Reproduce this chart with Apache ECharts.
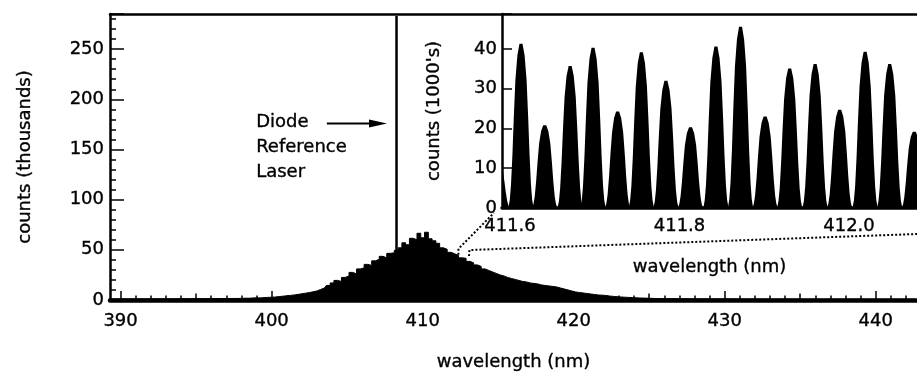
<!DOCTYPE html>
<html>
<head>
<meta charset="utf-8">
<script src="https://cdn.jsdelivr.net/npm/echarts@6/dist/echarts.min.js"></script>
<style>
html,body{margin:0;padding:0;background:#fff;}
#chart{width:917px;height:372px;}
</style>
</head>
<body>
<div id="chart"></div>
<script>
// ---------- DATA ----------
// Main spectrum (wavelength nm, counts in thousands)
const specWl = [389.3, 392, 395, 397,
  398.0, 398.25, 398.5, 398.75, 399.0, 399.25, 399.5, 399.75,
  400.0, 400.25, 400.5, 400.75, 401.0, 401.25, 401.5, 401.75,
  402.0, 402.25, 402.5, 402.75, 403.0, 403.25, 403.5, 403.75,
  404.0, 404.25, 404.5, 404.75, 405.0, 405.25, 405.5, 405.75,
  406.0, 406.25, 406.5, 406.75, 407.0, 407.25, 407.5, 407.75,
  408.0, 408.25, 408.5, 408.75, 409.0, 409.25, 409.5, 409.75,
  410.0, 410.25, 410.5, 410.75, 411.0, 411.25, 411.5, 411.75,
  412.0, 412.25, 412.5, 412.75, 413.0, 413.25, 413.5, 413.75,
  414.0, 414.25, 414.5, 414.75, 415.0, 415.25, 415.5, 415.75,
  416.0, 416.25, 416.5, 416.75, 417.0, 417.25, 417.5, 417.75,
  418.0, 418.25, 418.5, 418.75, 419.0, 419.25, 419.5, 419.75,
  420.0, 420.25, 420.5, 420.75, 421.0, 421.25, 421.5, 421.75,
  422.0, 422.25, 422.5, 422.75, 423.0, 423.25, 423.5, 423.75,
  424.0, 424.25, 424.5, 424.75, 425.0, 425.5, 426.0,
  428, 432, 436, 440, 442.73];
const specCounts = [1.0, 1.1, 1.3, 1.5,
  1.6, 1.8, 1.7, 2.0, 2.2, 2.1, 2.4, 2.6,
  2.8, 3.0, 3.4, 3.8, 4.2, 4.6, 5.0, 5.6,
  6.2, 6.8, 7.4, 8.2, 9.0, 10.5, 12.0, 14.5,
  17.0, 19.5, 18.5, 22.5, 24.0, 27.5, 26.0, 31.0,
  32.0, 35.5, 34.5, 39.0, 40.5, 43.5, 42.0, 46.5,
  47.0, 49.5, 52.0, 57.0, 55.0, 61.5, 60.0, 66.5,
  62.0, 67.5, 61.0, 59.0, 56.5, 52.0, 50.5, 47.5,
  46.0, 44.5, 42.0, 41.5, 38.5, 37.0, 35.0, 33.5,
  31.0, 29.5, 28.0, 26.5, 25.0, 24.0, 22.5, 21.5,
  20.5, 19.5, 18.5, 18.0, 17.0, 16.5, 16.0, 15.0,
  14.5, 14.0, 13.5, 13.0, 12.0, 11.0, 10.0, 9.0,
  8.0, 7.5, 7.0, 6.5, 6.0, 5.5, 5.0, 4.8,
  4.5, 4.0, 3.6, 3.3, 3.0, 2.8, 2.6, 2.4,
  2.2, 2.0, 1.9, 1.8, 1.6, 1.4, 1.2,
  1.0, 0.8, 0.7, 0.6, 0.6];
// Diode reference laser line
const diodeWl = 408.27;
const diodeCounts = 283;

// Inset: resolved comb peaks (wavelength nm, counts in 1000's)
const peakWl = [411.585, 411.613, 411.641, 411.671, 411.698, 411.727, 411.755, 411.784, 411.813,
  411.843, 411.872, 411.901, 411.930, 411.960, 411.989, 412.019, 412.048, 412.077];
const peakCounts = [12, 41.3, 20.8, 35.7, 40.3, 24.3, 39.2, 32.0, 20.3,
  40.6, 45.6, 23.0, 35.1, 36.2, 24.7, 39.3, 36.2, 19.2];

// Tick labels
const mainXLabels = [390, 400, 410, 420, 430, 440];
const mainYLabels = [0, 50, 100, 150, 200, 250];
const insetXLabels = [411.6, 411.8, 412.0];
const insetYLabels = [0, 10, 20, 30, 40];

// ---------- CHART ----------
const FONT = 'DejaVu Sans';
const chart = echarts.init(document.getElementById('chart'), null, {renderer: 'canvas'});

const minorX = [];
for (let v = 390; v <= 442; v++) minorX.push(v);
const midX = [395, 405, 415, 425, 435];

const MAIN_XMIN = 389.3, MAIN_XMAX = 442.73;
const INS_XMIN = 411.5906, INS_XMAX = 412.0802;

// peak glyph: [offset px along x, fraction of height]
const PX_PER_NM_INSET = 847.5;
const peakShape = [[-12.6,0],[-11.2,0.05],[-10,0.14],[-8.6,0.32],[-7.2,0.55],[-5.6,0.78],[-3.6,0.93],[-1.5,1],
  [1.5,1],[3.6,0.93],[5.6,0.78],[7.2,0.55],[8.6,0.32],[10,0.14],[11.2,0.05],[12.6,0]];

const labelStyle = {color: '#000', fontFamily: FONT, fontSize: 18, textBorderColor: '#000', textBorderWidth: 0.35};

const option = {
  animation: false,
  backgroundColor: '#fff',
  grid: [
    {left: 110, right: 0, top: 14, bottom: 72, containLabel: false, outerBoundsMode: 'none'},
    {left: 502, right: 0, top: 14, bottom: 164, containLabel: false, outerBoundsMode: 'none'}
  ],
  xAxis: [
    { // 0 main bottom with labels
      type: 'value', gridIndex: 0, min: MAIN_XMIN, max: MAIN_XMAX, position: 'bottom',
      axisLine: {lineStyle: {color: '#000', width: 4.5}},
      axisTick: {inside: true, length: 9, customValues: mainXLabels, lineStyle: {color: '#000', width: 1.5}},
      axisLabel: Object.assign({customValues: mainXLabels, margin: 12}, labelStyle),
      splitLine: {show: false},
      name: 'wavelength (nm)', nameLocation: 'middle', nameGap: 53,
      nameTextStyle: labelStyle
    },
    { // 1 minor ticks (1 nm)
      type: 'value', gridIndex: 0, min: MAIN_XMIN, max: MAIN_XMAX, position: 'bottom',
      axisLine: {show: false},
      axisTick: {inside: true, length: 4.5, customValues: minorX, lineStyle: {color: '#000', width: 1.5}},
      axisLabel: {show: false}, splitLine: {show: false}
    },
    { // 2 mid ticks (5 nm)
      type: 'value', gridIndex: 0, min: MAIN_XMIN, max: MAIN_XMAX, position: 'bottom',
      axisLine: {show: false},
      axisTick: {inside: true, length: 6.5, customValues: midX, lineStyle: {color: '#000', width: 1.5}},
      axisLabel: {show: false}, splitLine: {show: false}
    },
    { // 3 top border
      type: 'value', gridIndex: 0, min: MAIN_XMIN, max: MAIN_XMAX, position: 'top',
      axisLine: {lineStyle: {color: '#000', width: 2.5}},
      axisTick: {show: false}, axisLabel: {show: false}, splitLine: {show: false}
    },
    { // 4 inset x
      type: 'value', gridIndex: 1, min: INS_XMIN, max: INS_XMAX, position: 'bottom',
      axisLine: {lineStyle: {color: '#000', width: 3.5}},
      axisTick: {show: false},
      axisLabel: Object.assign({customValues: insetXLabels, margin: 9,
        formatter: v => v.toFixed(1)}, labelStyle),
      splitLine: {show: false},
      name: 'wavelength (nm)', nameLocation: 'middle', nameGap: 50,
      nameTextStyle: labelStyle
    }
  ],
  yAxis: [
    { // 0 main
      type: 'value', gridIndex: 0, min: 0, max: 285, interval: 50, position: 'left',
      axisLine: {show: true, lineStyle: {color: '#000', width: 2.5}},
      axisTick: {show: true, inside: true, length: 14, lineStyle: {color: '#000', width: 1.5}},
      axisLabel: Object.assign({margin: 6, customValues: mainYLabels}, labelStyle),
      splitLine: {show: false},
      name: 'counts (thousands)', nameLocation: 'middle', nameGap: 76,
      nameTextStyle: labelStyle
    },
    { // 1 main minor ticks
      type: 'value', gridIndex: 0, min: 0, max: 285, interval: 10, position: 'left',
      axisLine: {show: false},
      axisTick: {show: true, inside: true, length: 6, lineStyle: {color: '#000', width: 1.5}},
      axisLabel: {show: false}, splitLine: {show: false}
    },
    { // 2 inset y
      type: 'value', gridIndex: 1, min: 0, max: 48.8, interval: 10, position: 'left',
      axisLine: {show: true, lineStyle: {color: '#000', width: 2.5}},
      axisTick: {show: true, inside: true, length: 10, lineStyle: {color: '#000', width: 1.5}},
      axisLabel: Object.assign({margin: 5, customValues: insetYLabels}, labelStyle),
      splitLine: {show: false},
      name: "counts (1000's)", nameLocation: 'middle', nameGap: 59,
      nameTextStyle: labelStyle
    }
  ],
  series: [
    {
      type: 'line', xAxisIndex: 0, yAxisIndex: 0,
      data: specWl.map((w, i) => [w, specCounts[i]]),
      step: 'middle', showSymbol: false, symbol: 'none',
      lineStyle: {color: '#000', width: 1},
      areaStyle: {color: '#000', opacity: 1},
      z: 3
    },
    {
      type: 'line', xAxisIndex: 0, yAxisIndex: 0,
      data: [[diodeWl, 0], [diodeWl, diodeCounts]],
      showSymbol: false, symbol: 'none',
      lineStyle: {color: '#000', width: 2.5},
      z: 4
    },
    {
      type: 'custom', xAxisIndex: 4, yAxisIndex: 2, clip: true,
      data: peakWl.map((w, i) => [w, peakCounts[i]]),
      renderItem: function (params, api) {
        const c = api.value(0), h = api.value(1);
        const pts = peakShape.map(p => api.coord([c + p[0] / PX_PER_NM_INSET, h * p[1]]));
        return {type: 'polygon', shape: {points: pts}, style: {fill: '#000'}};
      },
      z: 3
    }
  ]
};
chart.setOption(option);

// ---------- annotations (positions from data coordinates) ----------
const M = pt => chart.convertToPixel({seriesIndex: 0}, pt);
const I = pt => chart.convertToPixel({seriesIndex: 2}, pt);

const d1 = [M([412.37, 45.0]), M([412.37, 51.0]), I([411.581, -1.26])];
const d2 = [M([413.07, 43.8]), M([413.10, 49.8]), I([412.0802, -6.54])];
const tail = M([403.66, 176]);
const tip = M([407.64, 176]);
const headLen = 18, headHalf = 4;

chart.setOption({
  graphic: [
    {type: 'polyline', shape: {points: d1}, style: {stroke: '#000', lineWidth: 2, lineDash: [2, 2], fill: null}, z: 10},
    {type: 'polyline', shape: {points: d2}, style: {stroke: '#000', lineWidth: 2, lineDash: [2, 2], fill: null}, z: 10},
    {type: 'line', shape: {x1: tail[0], y1: tail[1], x2: tip[0] - headLen + 2, y2: tip[1]}, style: {stroke: '#000', lineWidth: 2}, z: 10},
    {type: 'polygon', shape: {points: [[tip[0], tip[1]], [tip[0] - headLen, tip[1] - headHalf], [tip[0] - headLen, tip[1] + headHalf]]}, style: {fill: '#000'}, z: 10},
    {type: 'text', left: 256, top: 110, z: 10,
      style: {text: 'Diode\nReference\nLaser', font: '18px "DejaVu Sans"', lineHeight: 25, fill: '#000', stroke: '#000', lineWidth: 0.35}}
  ]
});
</script>
</body>
</html>
